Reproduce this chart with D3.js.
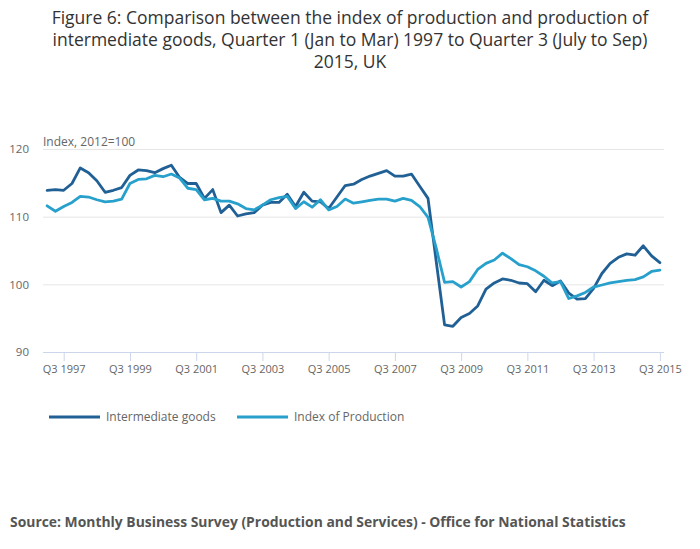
<!DOCTYPE html>
<html>
<head>
<meta charset="utf-8">
<script src="https://cdn.jsdelivr.net/npm/d3@7"></script>
<style>
  body { margin: 0; background: #fff; }
  text { font-family: "Open Sans", sans-serif; }
</style>
</head>
<body>
<div id="chart"></div>
<script>
// quarters run 1997 Q1 .. 2015 Q3
var startYear = 1997, quarterCount = 75;
var quarters = d3.range(quarterCount).map(function(i) {
  return { year: startYear + Math.floor(i / 4), q: (i % 4) + 1 };
});

var intermediate = [113.9, 114.0, 113.9, 114.9, 117.2, 116.5, 115.3, 113.6, 113.9, 114.3,
  116.1, 116.9, 116.8, 116.5, 117.1, 117.6, 115.8, 114.9, 114.9, 112.7,
  114.0, 110.6, 111.7, 110.1, 110.4, 110.6, 111.7, 112.1, 112.1, 113.3,
  111.5, 113.6, 112.3, 112.2, 111.2, 112.9, 114.6, 114.8, 115.5, 116.0,
  116.4, 116.8, 116.0, 116.0, 116.3, 114.5, 112.7, 103.3, 94.0, 93.8,
  95.1, 95.7, 96.8, 99.3, 100.2, 100.8, 100.6, 100.2, 100.1, 98.9,
  100.6, 99.8, 100.5, 98.7, 97.8, 97.9, 99.4, 101.6, 103.1, 104.0,
  104.5, 104.3, 105.7, 104.2, 103.2];

var production = [111.6, 110.8, 111.5, 112.1, 113.0, 112.9, 112.5, 112.2, 112.3, 112.6,
  114.9, 115.5, 115.6, 116.1, 115.9, 116.3, 115.7, 114.2, 114.0, 112.5,
  112.7, 112.3, 112.3, 111.9, 111.2, 111.0, 111.7, 112.5, 112.8, 113.0,
  111.2, 112.2, 111.4, 112.5, 111.0, 111.5, 112.6, 112.0, 112.2, 112.4,
  112.6, 112.6, 112.3, 112.7, 112.4, 111.5, 109.9, 105.3, 100.3, 100.4,
  99.6, 100.4, 102.2, 103.1, 103.6, 104.6, 103.8, 102.9, 102.6, 102.0,
  101.2, 100.2, 100.4, 97.9, 98.3, 98.8, 99.6, 99.9, 100.2, 100.4,
  100.6, 100.7, 101.1, 101.9, 102.1];

var seriesNames = ["Intermediate goods", "Index of Production"];
var seriesColors = ["#206095", "#27a0cc"];
var yTicks = [90, 100, 110, 120];
var titleLines = [
  "Figure 6: Comparison between the index of production and production of",
  "intermediate goods, Quarter 1 (Jan to Mar) 1997 to Quarter 3 (July to Sep)",
  "2015, UK"
];

var width = 700, height = 549;
var svg = d3.select("#chart").append("svg")
    .attr("width", width)
    .attr("height", height);

var x = d3.scaleLinear().domain([-0.5, quarterCount - 0.5]).range([43, 664]);
var y = d3.scaleLinear().domain([90, 120]).range([352, 149]);

// title
svg.append("g").selectAll("text")
  .data(titleLines)
  .enter().append("text")
    .attr("x", 350)
    .attr("y", function(d, i) { return 24 + i * 22; })
    .attr("text-anchor", "middle")
    .attr("font-size", "17.5px")
    .attr("fill", "#333")
    .text(function(d) { return d; });

// gridlines + y labels
var yAxis = d3.axisLeft(y).tickValues(yTicks).tickSize(-(664 - 43)).tickPadding(14);
svg.append("g")
    .attr("transform", "translate(43,0)")
    .call(yAxis)
    .call(function(g) {
      g.select(".domain").remove();
      g.selectAll(".tick line").attr("stroke", "#e6e6e6");
      g.selectAll(".tick text").attr("fill", "#666").attr("font-size", "11.5px")
        .attr("font-family", "Open Sans, sans-serif");
    });

svg.append("text")
    .attr("x", 43)
    .attr("y", 146)
    .attr("font-size", "12px")
    .attr("fill", "#666")
    .text("Index, 2012=100");

// x axis, ticks on Q3 of odd years
var xTickIdx = quarters.map(function(d, i) { return i; })
  .filter(function(i) { return quarters[i].q === 3 && quarters[i].year % 2 === 1; });
var xAxis = d3.axisBottom(x)
    .tickValues(xTickIdx)
    .tickSize(9)
    .tickPadding(4)
    .tickFormat(function(i) { return "Q3 " + quarters[i].year; });
svg.append("g")
    .attr("transform", "translate(0,352)")
    .call(xAxis)
    .call(function(g) {
      g.select(".domain").attr("stroke", "#ccd6eb").attr("d", "M43,0.5H664");
      g.selectAll(".tick line").attr("stroke", "#ccd6eb");
      g.selectAll(".tick text").attr("fill", "#666").attr("font-size", "11px")
        .attr("font-family", "Open Sans, sans-serif");
    });

// lines
var line = d3.line()
    .x(function(d, i) { return x(i); })
    .y(function(d) { return y(d); });

[intermediate, production].forEach(function(s, k) {
  svg.append("path")
      .datum(s)
      .attr("fill", "none")
      .attr("stroke", seriesColors[k])
      .attr("stroke-width", 2.8)
      .attr("stroke-linejoin", "round")
      .attr("stroke-linecap", "round")
      .attr("d", line);
});

// legend
var legendX = [49, 237];
var legend = svg.append("g").selectAll("g")
  .data(seriesNames)
  .enter().append("g")
    .attr("transform", function(d, i) { return "translate(" + legendX[i] + ",417)"; });
legend.append("line")
    .attr("x1", 0).attr("x2", 51)
    .attr("stroke", function(d, i) { return seriesColors[i]; })
    .attr("stroke-width", 3);
legend.append("text")
    .attr("x", 57)
    .attr("y", 4)
    .attr("font-size", "12px")
    .attr("fill", "#666")
    .text(function(d) { return d; });

// source
svg.append("text")
    .attr("x", 10)
    .attr("y", 527)
    .attr("font-size", "13.9px")
    .attr("font-weight", "bold")
    .attr("fill", "#555")
    .text("Source: Monthly Business Survey (Production and Services) - Office for National Statistics");
</script>
</body>
</html>
